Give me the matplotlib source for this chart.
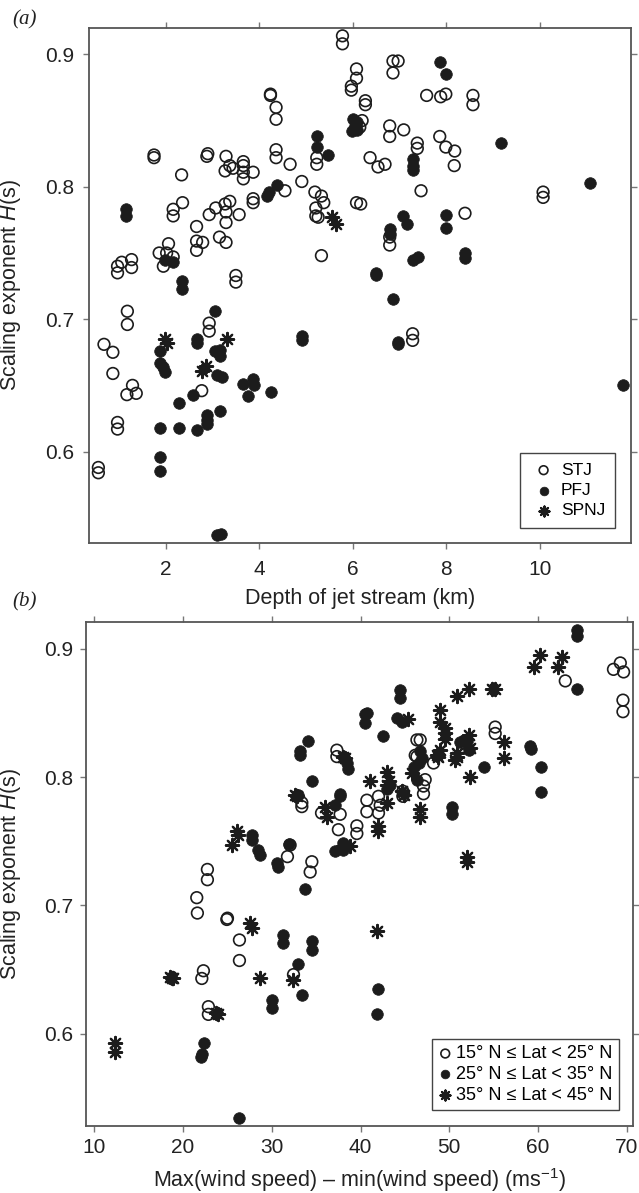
import matplotlib
matplotlib.use("Agg")
import matplotlib.pyplot as plt
import numpy as np

plt.rcParams['font.family'] = ['Liberation Sans', 'DejaVu Sans']
plt.rcParams['mathtext.fontset'] = 'custom'
plt.rcParams['mathtext.rm'] = 'Liberation Sans'
plt.rcParams['mathtext.it'] = 'Liberation Sans:italic'

# (a) depth of jet stream (km) vs scaling exponent
stj_depth = [0.56, 0.56, 0.68, 0.87, 0.87, 0.97, 0.97, 1.17, 1.29, 1.37, 1.18, 1.18,
             0.97, 1.06, 1.27, 1.27, 0.97, 1.75, 1.75, 1.86, 2.06, 1.95, 2.16, 2.02,
             2.34, 2.16, 2.36, 2.16, 2.66, 2.66, 2.79, 2.66, 2.88, 2.90, 2.77, 2.93,
             2.93, 2.93, 3.07, 3.27, 3.37, 3.15, 3.29, 3.29, 3.29, 3.29, 3.37, 3.27,
             3.44, 3.66, 3.66, 3.66, 3.66, 3.87, 3.57, 3.87, 3.87, 3.50, 3.50, 4.24,
             4.24, 4.36, 4.36, 4.36, 4.36, 4.55, 4.66, 4.91, 5.19, 5.21, 5.21, 5.23,
             5.23, 5.33, 5.38, 5.26, 5.33, 5.78, 5.78, 6.86, 6.97, 6.86, 6.08, 6.08,
             5.97, 5.97, 7.58, 7.88, 7.99, 8.57, 8.57, 6.27, 6.27, 6.20, 6.15, 6.79,
             6.79, 7.09, 7.86, 7.99, 8.18, 8.17, 7.38, 7.38, 6.37, 6.54, 6.69, 7.46,
             10.07, 10.07, 6.08, 6.17, 8.40, 6.79, 6.79, 7.28, 7.28]
stj_h = [0.588, 0.584, 0.681, 0.675, 0.659, 0.622, 0.617, 0.643, 0.650, 0.644, 0.706, 0.696,
         0.740, 0.743, 0.745, 0.739, 0.735, 0.824, 0.822, 0.750, 0.757, 0.740, 0.747, 0.750,
         0.809, 0.783, 0.788, 0.778, 0.770, 0.759, 0.758, 0.752, 0.823, 0.825, 0.646, 0.697,
         0.691, 0.779, 0.784, 0.787, 0.789, 0.762, 0.758, 0.781, 0.773, 0.823, 0.816, 0.812,
         0.814, 0.819, 0.816, 0.811, 0.806, 0.811, 0.779, 0.791, 0.788, 0.733, 0.728, 0.870,
         0.869, 0.860, 0.851, 0.828, 0.822, 0.797, 0.817, 0.804, 0.796, 0.784, 0.778, 0.822,
         0.817, 0.793, 0.788, 0.777, 0.748, 0.914, 0.908, 0.895, 0.895, 0.886, 0.889, 0.882,
         0.876, 0.873, 0.869, 0.868, 0.870, 0.869, 0.862, 0.865, 0.862, 0.850, 0.845, 0.846,
         0.838, 0.843, 0.838, 0.830, 0.827, 0.816, 0.833, 0.829, 0.822, 0.815, 0.817, 0.797,
         0.796, 0.792, 0.788, 0.787, 0.780, 0.762, 0.756, 0.689, 0.684]

pfj_depth = [1.15, 1.15, 1.98, 2.16, 2.34, 2.34, 1.88, 1.88, 1.95, 1.98, 1.88, 1.88, 1.88,
             2.28, 2.28, 2.58, 2.66, 2.66, 2.66, 2.88, 2.88, 2.88, 3.05, 3.05, 3.16, 3.16,
             3.09, 3.20, 3.16, 3.09, 3.18, 3.66, 3.76, 3.87, 3.89, 4.26, 4.91, 4.91, 4.16,
             4.37, 4.20, 5.23, 5.23, 5.47, 6.00, 6.05, 6.10, 5.98, 6.08, 7.86, 7.99, 9.18,
             7.28, 7.28, 7.28, 11.08, 7.08, 7.16, 7.99, 7.99, 6.79, 6.79, 7.28, 7.40, 8.40,
             8.40, 6.49, 6.49, 6.86, 6.97, 6.97, 11.78]
pfj_h = [0.783, 0.778, 0.745, 0.743, 0.729, 0.723, 0.676, 0.667, 0.664, 0.660, 0.618, 0.596, 0.585,
         0.637, 0.618, 0.643, 0.616, 0.685, 0.682, 0.628, 0.624, 0.621, 0.706, 0.676, 0.677, 0.672,
         0.658, 0.656, 0.631, 0.537, 0.538, 0.651, 0.642, 0.655, 0.650, 0.645, 0.687, 0.684, 0.793,
         0.801, 0.796, 0.838, 0.830, 0.824, 0.851, 0.846, 0.843, 0.842, 0.849, 0.894, 0.885, 0.833,
         0.821, 0.816, 0.813, 0.803, 0.778, 0.772, 0.779, 0.769, 0.768, 0.764, 0.745, 0.747, 0.750,
         0.746, 0.735, 0.733, 0.715, 0.683, 0.681, 0.650]

spnj_depth = [1.98, 2.02, 2.77, 2.86, 3.30, 5.55, 5.65]
spnj_h = [0.685, 0.682, 0.661, 0.665, 0.685, 0.777, 0.772]

# (b) wind speed range (m/s) vs scaling exponent, by latitude band
lat15_ws = [21.54, 21.61, 22.74, 22.74, 22.29, 22.11, 22.85, 22.85, 24.93, 25.00, 26.35, 26.35,
            32.44, 33.38, 31.76, 32.06, 34.51, 34.32, 33.38, 37.33, 37.33, 37.70, 37.50, 39.58,
            39.58, 40.71, 40.71, 42.02, 42.21, 42.02, 44.77, 44.77, 46.35, 46.35, 46.72, 46.16,
            47.28, 47.09, 47.09, 44.84, 48.22, 55.17, 55.17, 63.07, 68.50, 69.27, 69.64, 69.57,
            69.57, 35.60]
lat15_h = [0.706, 0.694, 0.728, 0.720, 0.649, 0.643, 0.621, 0.615, 0.689, 0.690, 0.673, 0.657,
           0.646, 0.780, 0.738, 0.747, 0.734, 0.726, 0.777, 0.821, 0.816, 0.771, 0.759, 0.762,
           0.756, 0.782, 0.773, 0.785, 0.778, 0.772, 0.789, 0.785, 0.829, 0.816, 0.829, 0.817,
           0.798, 0.793, 0.787, 0.787, 0.811, 0.839, 0.834, 0.875, 0.884, 0.889, 0.882, 0.860,
           0.851, 0.772]

lat25_ws = [26.35, 22.37, 22.00, 22.11, 30.00, 30.00, 33.38, 33.00, 34.51, 34.51, 31.24, 31.24,
            33.75, 30.56, 30.74, 28.49, 28.68, 27.74, 27.74, 31.98, 34.51, 34.13, 33.19, 33.19,
            33.00, 37.70, 37.70, 37.13, 37.13, 38.07, 38.07, 38.64, 38.45, 40.52, 40.52, 40.71,
            42.58, 44.47, 44.47, 44.10, 44.66, 43.34, 42.96, 46.72, 46.91, 46.53, 45.97, 46.35,
            50.30, 50.30, 51.60, 52.00, 51.20, 52.20, 53.86, 59.05, 59.20, 60.36, 60.36, 64.39,
            64.40, 64.40, 42.02, 41.90]
lat25_h = [0.534, 0.593, 0.582, 0.584, 0.626, 0.620, 0.630, 0.654, 0.672, 0.665, 0.677, 0.671,
           0.713, 0.733, 0.730, 0.743, 0.739, 0.755, 0.751, 0.748, 0.797, 0.828, 0.820, 0.817,
           0.786, 0.787, 0.785, 0.778, 0.742, 0.749, 0.743, 0.806, 0.811, 0.849, 0.842, 0.850,
           0.832, 0.868, 0.862, 0.846, 0.843, 0.794, 0.791, 0.820, 0.815, 0.811, 0.808, 0.798,
           0.777, 0.771, 0.829, 0.828, 0.827, 0.821, 0.808, 0.824, 0.822, 0.808, 0.788, 0.869,
           0.915, 0.910, 0.635, 0.615]

lat35_ws = [12.33, 12.33, 18.50, 18.72, 18.90, 23.72, 23.98, 27.55, 27.74, 28.68, 32.44, 25.49,
            26.12, 26.23, 32.63, 32.82, 36.00, 36.20, 38.26, 38.07, 38.83, 38.07, 41.08, 42.96,
            43.15, 42.96, 42.02, 42.02, 41.90, 45.40, 45.79, 46.72, 46.72, 48.97, 48.97, 49.54,
            49.54, 49.54, 48.97, 48.60, 48.78, 50.86, 52.17, 55.17, 54.80, 50.86, 52.17, 52.36,
            52.36, 50.86, 50.67, 56.11, 56.11, 51.98, 51.98, 59.49, 60.25, 62.30, 62.69, 44.66,
            44.84, 42.96]
lat35_h = [0.593, 0.586, 0.644, 0.643, 0.643, 0.616, 0.615, 0.686, 0.682, 0.643, 0.642, 0.747,
           0.758, 0.755, 0.786, 0.785, 0.777, 0.769, 0.815, 0.816, 0.746, 0.746, 0.797, 0.804,
           0.797, 0.780, 0.762, 0.758, 0.680, 0.845, 0.803, 0.775, 0.769, 0.852, 0.843, 0.838,
           0.834, 0.830, 0.821, 0.817, 0.816, 0.863, 0.869, 0.869, 0.869, 0.816, 0.833, 0.823,
           0.800, 0.819, 0.813, 0.827, 0.815, 0.738, 0.734, 0.886, 0.895, 0.886, 0.894, 0.789,
           0.786, 0.794]

ink = '#1c1c1c'
frame = '#555555'
star = (8, 2, 0)


def style_axes(ax, xpad, ypad):
    for s in ax.spines.values():
        s.set_color(frame)
        s.set_linewidth(1.3)
    ax.tick_params(direction='out', length=4.5, width=1, color='#777777',
                   top=True, right=True, labelsize=15, labelcolor='#222222')
    ax.tick_params(axis='x', pad=xpad)
    ax.tick_params(axis='y', pad=ypad)
    ax.set_yticks([0.6, 0.7, 0.8, 0.9])
    ax.set_yticklabels(['0.6', '0.7', '0.8', '0.9'])


fig = plt.figure(figsize=(6.39, 11.93), dpi=100)

# panel (a)
ax1 = fig.add_axes([0.1393, 0.5449, 0.8482, 0.4317])
ax1.scatter(stj_depth, stj_h, s=70, facecolors='none', edgecolors=ink, linewidths=1.2, label='STJ')
ax1.scatter(pfj_depth, pfj_h, s=70, c=ink, edgecolors=ink, linewidths=0.5, label='PFJ')
ax1.scatter(spnj_depth, spnj_h, s=90, marker=star, c=ink, linewidths=1.6, label='SPNJ')
ax1.set_xlim(0.36, 11.95)
ax1.set_ylim(0.531, 0.920)
ax1.set_xticks([2, 4, 6, 8, 10])
style_axes(ax1, 8, 6)
ax1.set_xlabel('Depth of jet stream (km)', fontsize=15.5, color='#222222')
ax1.set_ylabel('Scaling exponent $H$(s)', fontsize=15.5, color='#222222')
ax1.xaxis.set_label_coords(0.5, -0.088)
ax1.yaxis.set_label_coords(-0.122, 0.5)
leg1 = ax1.legend(loc='lower right', bbox_to_anchor=(0.970, 0.029), fontsize=12.5,
                  frameon=True, fancybox=False, edgecolor='#444444', framealpha=1,
                  markerscale=0.75, handlelength=1.6, handletextpad=0.2,
                  labelspacing=0.3, borderpad=0.55, borderaxespad=0)
leg1.get_frame().set_linewidth(1.0)

# panel (b)
ax2 = fig.add_axes([0.1346, 0.0562, 0.856, 0.4225])
ax2.scatter(lat15_ws, lat15_h, s=70, facecolors='none', edgecolors=ink, linewidths=1.2,
            label='15° N ≤ Lat < 25° N')
ax2.scatter(lat25_ws, lat25_h, s=70, c=ink, edgecolors=ink, linewidths=0.5,
            label='25° N ≤ Lat < 35° N')
ax2.scatter(lat35_ws, lat35_h, s=90, marker=star, c=ink, linewidths=1.6,
            label='35° N ≤ Lat < 45° N')
ax2.set_xlim(9.06, 70.7)
ax2.set_ylim(0.528, 0.921)
ax2.set_xticks([10, 20, 30, 40, 50, 60, 70])
style_axes(ax2, 4.5, 4.5)
ax2.set_xlabel('Max(wind speed) – min(wind speed) (ms$^{-1}$)', fontsize=15.5, color='#222222')
ax2.set_ylabel('Scaling exponent $H$(s)', fontsize=15.5, color='#222222')
ax2.xaxis.set_label_coords(0.5, -0.080)
ax2.yaxis.set_label_coords(-0.115, 0.5)
leg2 = ax2.legend(loc='lower right', bbox_to_anchor=(0.974, 0.032), fontsize=13,
                  frameon=True, fancybox=False, edgecolor='#444444', framealpha=1,
                  markerscale=0.75, handlelength=0.8, handletextpad=0.2,
                  labelspacing=0.2, borderpad=0.35, borderaxespad=0)
leg2.get_frame().set_linewidth(1.0)

fig.text(0.019, 0.983, '(a)', fontsize=15, style='italic', family='Liberation Serif',
         va='center', ha='left', color='#222222')
fig.text(0.019, 0.4954, '(b)', fontsize=15, style='italic', family='Liberation Serif',
         va='center', ha='left', color='#222222')

fig.savefig('out.png', dpi=100)
